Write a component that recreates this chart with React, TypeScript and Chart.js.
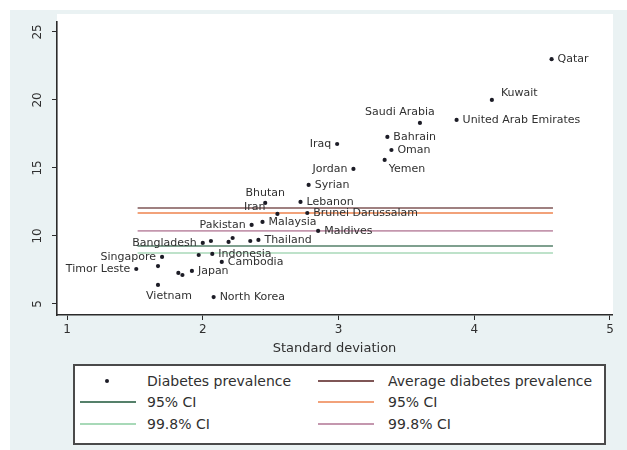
import React, { useEffect, useRef } from "react";
import { Chart, registerables } from "chart.js";

Chart.register(...registerables);

// Countries (blank names are plotted without a label)
const countries = [
  "Qatar", "Kuwait", "United Arab Emirates", "Saudi Arabia", "Bahrain", "Oman", "Yemen",
  "Iraq", "Jordan", "Syrian", "Lebanon", "Bhutan", "Iran", "Brunei Darussalam",
  "Pakistan", "Malaysia", "Maldives", "Thailand", "Bangladesh", "Singapore",
  "Indonesia", "Cambodia", "Timor Leste", "Japan", "Vietnam", "North Korea",
  "", "", "", "", "", "", "", "",
];

// Standard deviation (x)
const stdDeviation = [
  4.57, 4.13, 3.87, 3.6, 3.36, 3.39, 3.34,
  2.99, 3.11, 2.78, 2.72, 2.46, 2.55, 2.77,
  2.36, 2.44, 2.85, 2.41, 2.0, 1.7,
  2.07, 2.14, 1.51, 1.92, 1.67, 2.08,
  1.67, 1.82, 1.85, 1.97, 2.06, 2.19, 2.22, 2.35,
];

// Diabetes prevalence, % (y)
const prevalence = [
  23.0, 20.0, 18.53, 18.31, 17.28, 16.32, 15.59,
  16.76, 14.93, 13.75, 12.5, 12.43, 11.62, 11.69,
  10.81, 11.03, 10.37, 9.71, 9.49, 8.46,
  8.68, 8.09, 7.57, 7.43, 6.4, 5.51,
  7.79, 7.28, 7.13, 8.6, 9.63, 9.56, 9.85, 9.63,
];

// Reference lines
const lineSpan = [1.52, 4.58];
const averagePrevalence = 12.06;
const ci95 = [9.26, 11.69]; // lower, upper
const ci998 = [8.75, 10.37]; // lower, upper

const xTicks = [1, 2, 3, 4, 5];
const yTicks = [5, 10, 15, 20, 25];

// Clock position of each country label around its marker
const labelClock = [
  3, 2, 3, 11, 3, 3, 4,
  9, 9, 3, 3, 12, 10, 3,
  9, 3, 3, 3, 9, 9,
  3, 3, 9, 3, 5, 3,
  3, 3, 3, 3, 3, 3, 3, 3,
];

const clockOffsets: Record<number, { dx: number; dy: number; align: CanvasTextAlign }> = {
  2: { dx: 9, dy: -7, align: "left" },
  3: { dx: 6, dy: 0, align: "left" },
  4: { dx: 4, dy: 9, align: "left" },
  5: { dx: 11, dy: 11, align: "center" },
  9: { dx: -6, dy: 0, align: "right" },
  10: { dx: -12, dy: -7, align: "right" },
  11: { dx: -20, dy: -11, align: "center" },
  12: { dx: 0, dy: -10, align: "center" },
};

const COLORS = {
  graphRegion: "#eaf2f3",
  axis: "#2b2b2b",
  text: "#303030",
  marker: "#1c1c26",
  average: "#7f5656",
  ci95Lower: "#55806a",
  ci95Upper: "#f2a27a",
  ci998Lower: "#a8d9b8",
  ci998Upper: "#c497ae",
};

const FONT = "'DejaVu Sans', 'Liberation Sans', Arial, sans-serif";

const seriesLines = [
  { label: "Average diabetes prevalence", y: averagePrevalence, color: COLORS.average, width: 1.6 },
  { label: "95% CI", y: ci95[0], color: COLORS.ci95Lower, width: 1.6 },
  { label: "95% CI", y: ci95[1], color: COLORS.ci95Upper, width: 2.2 },
  { label: "99.8% CI", y: ci998[0], color: COLORS.ci998Lower, width: 1.6 },
  { label: "99.8% CI", y: ci998[1], color: COLORS.ci998Upper, width: 1.8 },
];

const plotBackground = {
  id: "plotBackground",
  beforeDraw(chart: any) {
    const { ctx, chartArea } = chart;
    ctx.save();
    ctx.fillStyle = "#ffffff";
    ctx.fillRect(chartArea.left, chartArea.top - 8, chartArea.right - chartArea.left + 1, chartArea.bottom - chartArea.top + 8);
    ctx.restore();
  },
};

const countryLabels = {
  id: "countryLabels",
  afterDatasetsDraw(chart: any) {
    const { ctx } = chart;
    const meta = chart.getDatasetMeta(0);
    ctx.save();
    ctx.font = `11px ${FONT}`;
    ctx.fillStyle = COLORS.text;
    ctx.textBaseline = "middle";
    meta.data.forEach((pt: any, i: number) => {
      const name = countries[i];
      if (!name) return;
      const off = clockOffsets[labelClock[i]] || clockOffsets[3];
      ctx.textAlign = off.align;
      ctx.fillText(name, pt.x + off.dx, pt.y + off.dy);
    });
    ctx.restore();
  },
};

function ChartCanvas() {
  const ref = useRef<HTMLCanvasElement | null>(null);

  useEffect(() => {
    if (!ref.current) return;
    const lineDatasets = seriesLines.map((s) => ({
      label: s.label,
      data: lineSpan.map((x) => ({ x, y: s.y })),
      showLine: true,
      borderColor: s.color,
      backgroundColor: s.color,
      borderWidth: s.width,
      pointRadius: 0,
      fill: false,
    }));

    const chart = new Chart(ref.current, {
      type: "scatter",
      data: {
        datasets: [
          {
            label: "Diabetes prevalence",
            data: stdDeviation.map((x, i) => ({ x, y: prevalence[i] })),
            backgroundColor: COLORS.marker,
            borderWidth: 0,
            pointRadius: 2.1,
            pointStyle: "circle",
          },
          ...lineDatasets,
        ] as any,
      },
      options: {
        animation: false,
        responsive: false,
        devicePixelRatio: 1,
        layout: { padding: { left: 0, right: 15, top: 22, bottom: 94 } },
        plugins: { legend: { display: false }, tooltip: { enabled: false } },
        scales: {
          x: {
            type: "linear",
            min: 0.926,
            max: 5.015,
            afterFit: (s: any) => {
              s.height = 41;
            },
            afterBuildTicks: (s: any) => {
              s.ticks = xTicks.map((v) => ({ value: v }));
            },
            border: { display: true, color: COLORS.axis, width: 1.6 },
            grid: { display: true, drawOnChartArea: false, drawTicks: true, tickLength: 5, color: COLORS.axis },
            ticks: {
              includeBounds: false,
              padding: 3,
              color: COLORS.text,
              font: { family: FONT, size: 12 },
            },
            title: {
              display: true,
              text: "Standard deviation",
              color: COLORS.text,
              font: { family: FONT, size: 13 },
              padding: { top: 0, bottom: 0 },
            },
          },
          y: {
            type: "linear",
            min: 4.19,
            max: 25.73,
            afterFit: (s: any) => {
              s.width = 57;
            },
            afterBuildTicks: (s: any) => {
              s.ticks = yTicks.map((v) => ({ value: v }));
            },
            border: { display: true, color: COLORS.axis, width: 1.6 },
            grid: { display: true, drawOnChartArea: false, drawTicks: true, tickLength: 5, color: COLORS.axis },
            ticks: {
              includeBounds: false,
              minRotation: 90,
              maxRotation: 90,
              crossAlign: "center",
              padding: 6,
              color: COLORS.text,
              font: { family: FONT, size: 12 },
            },
          },
        },
      },
      plugins: [plotBackground, countryLabels],
    });
    return () => chart.destroy();
  }, []);

  return (
    <canvas
      ref={ref}
      width={627}
      height={450}
      style={{ position: "absolute", left: 0, top: 0, width: 627, height: 450 }}
    />
  );
}

const legendRows = [
  [{ kind: "dot", label: "Diabetes prevalence", color: COLORS.marker }, { kind: "line", label: "Average diabetes prevalence", color: COLORS.average }],
  [{ kind: "line", label: "95% CI", color: COLORS.ci95Lower }, { kind: "line", label: "95% CI", color: COLORS.ci95Upper }],
  [{ kind: "line", label: "99.8% CI", color: COLORS.ci998Lower }, { kind: "line", label: "99.8% CI", color: COLORS.ci998Upper }],
];

function Legend() {
  const rowCenters = [15, 36, 58];
  const colKeyLeft = [5, 243];
  const colTextLeft = [72, 313];
  return (
    <div
      style={{
        position: "absolute",
        left: 73,
        top: 364,
        width: 533,
        height: 81,
        boxSizing: "border-box",
        border: "2px solid #4a4a4a",
        background: "#ffffff",
        fontFamily: FONT,
        fontSize: 14,
        color: COLORS.text,
      }}
    >
      {legendRows.map((row, r) =>
        row.map((item, c) => (
          <React.Fragment key={`${r}-${c}`}>
            {item.kind === "dot" ? (
              <div
                style={{
                  position: "absolute",
                  left: colKeyLeft[c] + 25,
                  top: rowCenters[r] - 2,
                  width: 4,
                  height: 4,
                  borderRadius: 2,
                  background: item.color,
                }}
              />
            ) : (
              <div
                style={{
                  position: "absolute",
                  left: colKeyLeft[c],
                  top: rowCenters[r] - 1,
                  width: 56,
                  height: 1.6,
                  background: item.color,
                }}
              />
            )}
            <div
              style={{
                position: "absolute",
                left: colTextLeft[c],
                top: rowCenters[r] - 9,
                lineHeight: "18px",
                whiteSpace: "nowrap",
              }}
            >
              {item.label}
            </div>
          </React.Fragment>
        ))
      )}
    </div>
  );
}

export default function App() {
  return (
    <div style={{ position: "absolute", left: 0, top: 0, width: 627, height: 450, background: "#ffffff", overflow: "hidden" }}>
      <div style={{ position: "absolute", left: 10, top: 10, width: 617, height: 440, background: COLORS.graphRegion }} />
      <ChartCanvas />
      <Legend />
    </div>
  );
}
